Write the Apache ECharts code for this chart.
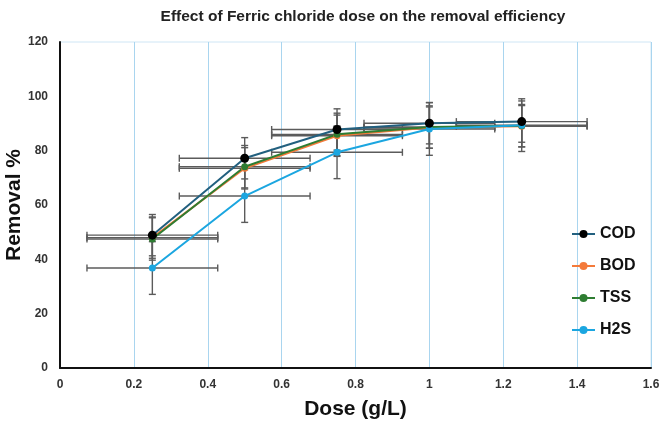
<!DOCTYPE html>
<html>
<head>
<meta charset="utf-8">
<script src="https://cdn.jsdelivr.net/npm/echarts@6/dist/echarts.min.js"></script>
<style>
  html, body { margin: 0; padding: 0; background: #fff; }
  #chart { width: 662px; height: 425px; }
</style>
</head>
<body>
<div id="chart"></div>
<script>
// dose values (g/L)
var doses = [0.25, 0.5, 0.75, 1.0, 1.25]
var doseErr = 0.177

// removal %
var cod = [48.9, 77.2, 87.8, 90.1, 90.7]
var bod = [48.0, 73.5, 85.5, 88.5, 89.0]
var tss = [47.5, 74.1, 86.0, 88.7, 89.2]
var h2s = [36.8, 63.3, 79.4, 88.0, 89.4]

var codErr = 7.6
var bodErr = 7.6
var tssErr = 7.8
var h2sErr = 9.7

var xTicks = [0, 0.2, 0.4, 0.6, 0.8, 1, 1.2, 1.4, 1.6]
var yTicks = [0, 20, 40, 60, 80, 100, 120]

var FONT = '"Liberation Sans", Arial, sans-serif'

function pairs(vals) {
  return doses.map(function (d, i) { return [d, vals[i]] })
}

// error bar rows: [x, y, xerr, yerr]
function errRows(vals, yErr) {
  return doses.map(function (d, i) { return [d, vals[i], doseErr, yErr] })
}

function renderErr(params, api) {
  var x = api.value(0), y = api.value(1), ex = api.value(2), ey = api.value(3)
  var l = api.coord([x - ex, y]), r = api.coord([x + ex, y])
  var t = api.coord([x, y + ey]), b = api.coord([x, y - ey])
  var c = 3.5
  var st = { stroke: '#5b5b5b', lineWidth: 1.4 }
  var lines = [
    [l, r],
    [[l[0], l[1] - c], [l[0], l[1] + c]],
    [[r[0], r[1] - c], [r[0], r[1] + c]],
    [t, b],
    [[t[0] - c, t[1]], [t[0] + c, t[1]]],
    [[b[0] - c, b[1]], [b[0] + c, b[1]]]
  ]
  return {
    type: 'group',
    children: lines.map(function (p) {
      return { type: 'line', shape: { x1: p[0][0], y1: p[0][1], x2: p[1][0], y2: p[1][1] }, style: st }
    })
  }
}

function errSeries(vals, yErr) {
  return {
    type: 'custom',
    renderItem: renderErr,
    data: errRows(vals, yErr),
    encode: { x: 0, y: 1 },
    z: 1,
    silent: true
  }
}

function lineSeries(name, vals, lineColor, dotColor, size) {
  return {
    name: name,
    type: 'line',
    data: pairs(vals),
    symbol: 'circle',
    symbolSize: size,
    z: 3,
    lineStyle: { color: lineColor, width: 2 },
    itemStyle: { color: dotColor }
  }
}

var chart = echarts.init(document.getElementById('chart'))
chart.setOption({
  animation: false,
  backgroundColor: '#fff',
  title: {
    text: 'Effect of Ferric chloride dose on the removal efficiency',
    left: 358,
    textAlign: 'center',
    top: 4,
    textStyle: { fontFamily: FONT, fontSize: 15.5, fontWeight: 'bold', color: '#222' }
  },
  grid: {
    left: 60, right: 11, top: 42, bottom: 57,
    outerBoundsMode: 'none',
    containLabel: false,
    show: true, borderColor: '#cfe6f5', borderWidth: 1
  },
  legend: {
    data: ['COD', 'BOD', 'TSS', 'H2S'],
    orient: 'vertical',
    left: 566,
    top: 221,
    itemWidth: 23,
    itemHeight: 10,
    itemGap: 16,
    textStyle: { fontFamily: FONT, fontSize: 16, fontWeight: 'bold', color: '#111' }
  },
  xAxis: {
    type: 'value',
    min: 0, max: 1.6, interval: 0.2,
    name: 'Dose (g/L)',
    nameLocation: 'middle',
    nameGap: 31,
    nameMoveOverlap: false,
    nameTextStyle: { fontFamily: FONT, fontSize: 21, fontWeight: 'bold', color: '#111' },
    axisLine: { lineStyle: { color: '#111', width: 2 } },
    axisTick: { show: false },
    axisLabel: {
      margin: 11,
      fontFamily: FONT, fontSize: 12, fontWeight: 'bold', color: '#333',
      formatter: function (v) { return xTicks.indexOf(+v.toFixed(1)) >= 0 ? String(+v.toFixed(1)) : '' }
    },
    splitLine: { show: true, lineStyle: { color: '#a9d5ef', width: 1 } }
  },
  yAxis: {
    type: 'value',
    min: 0, max: 120, interval: 20,
    name: 'Removal %',
    nameLocation: 'middle',
    nameGap: 35,
    nameMoveOverlap: false,
    nameTextStyle: { fontFamily: FONT, fontSize: 21, fontWeight: 'bold', color: '#111' },
    axisLine: { show: true, lineStyle: { color: '#111', width: 2 } },
    axisTick: { show: false },
    axisLabel: {
      margin: 12,
      fontFamily: FONT, fontSize: 12, fontWeight: 'bold', color: '#333',
      formatter: function (v) { return yTicks.indexOf(v) >= 0 ? String(v) : '' }
    },
    splitLine: { show: false }
  },
  series: [
    errSeries(cod, codErr),
    errSeries(bod, bodErr),
    errSeries(tss, tssErr),
    errSeries(h2s, h2sErr),
    lineSeries('BOD', bod, '#f47a3a', '#f47a3a', 7),
    lineSeries('TSS', tss, '#2e7d32', '#2e7d32', 7),
    lineSeries('H2S', h2s, '#1ba6e0', '#1ba6e0', 7),
    lineSeries('COD', cod, '#22607f', '#000000', 9)
  ]
})
</script>
</body>
</html>
